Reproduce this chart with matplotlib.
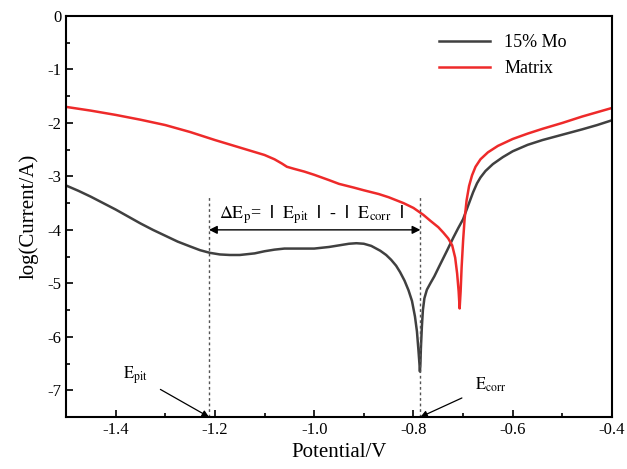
import matplotlib
matplotlib.use("Agg")
import matplotlib.pyplot as plt
from matplotlib.ticker import MultipleLocator

plt.rcParams['font.family'] = ['Liberation Serif', 'DejaVu Serif']
plt.rcParams['mathtext.fontset'] = 'stix'

# polarization curves, potential (V) vs log current
mo_x = [-1.5, -1.475, -1.45, -1.425, -1.4, -1.375, -1.35, -1.325, -1.3, -1.275, -1.25,
        -1.23, -1.21, -1.19, -1.17, -1.15, -1.12, -1.10, -1.08, -1.06, -1.03, -1.0,
        -0.97, -0.95, -0.93, -0.915, -0.90, -0.885, -0.867, -0.855, -0.845, -0.835,
        -0.827, -0.818, -0.81, -0.803, -0.797, -0.793, -0.790, -0.788, -0.787,
        -0.786, -0.785, -0.783, -0.781, -0.778, -0.773, -0.766, -0.758, -0.748,
        -0.733, -0.72, -0.71, -0.70, -0.69, -0.68, -0.672, -0.665, -0.655, -0.64,
        -0.62, -0.60, -0.57, -0.54, -0.50, -0.46, -0.43, -0.40]
mo_y = [-3.17, -3.27, -3.38, -3.50, -3.62, -3.75, -3.88, -4.00, -4.11, -4.22, -4.31,
        -4.38, -4.43, -4.46, -4.47, -4.47, -4.44, -4.40, -4.37, -4.35, -4.35, -4.35,
        -4.32, -4.29, -4.26, -4.25, -4.26, -4.30, -4.39, -4.47, -4.56, -4.67,
        -4.79, -4.95, -5.13, -5.33, -5.62, -5.90, -6.25, -6.50, -6.65,
        -6.50, -6.20, -5.80, -5.50, -5.28, -5.12, -5.00, -4.87, -4.68,
        -4.40, -4.15, -3.97, -3.80, -3.55, -3.30, -3.13, -3.02, -2.90, -2.77,
        -2.64, -2.53, -2.41, -2.32, -2.22, -2.12, -2.04, -1.95]

mx_x = [-1.5, -1.45, -1.4, -1.35, -1.3, -1.25, -1.2, -1.15, -1.1, -1.08, -1.065, -1.055,
        -1.04, -1.02, -1.0, -0.97, -0.95, -0.92, -0.9, -0.87, -0.85, -0.82, -0.8,
        -0.78, -0.766, -0.75, -0.74, -0.73, -0.722, -0.716, -0.712, -0.709, -0.707,
        -0.705, -0.703, -0.700, -0.697, -0.693, -0.688, -0.682, -0.675, -0.665,
        -0.65, -0.63, -0.6, -0.57, -0.54, -0.5, -0.46, -0.43, -0.4]
mx_y = [-1.70, -1.77, -1.85, -1.94, -2.04, -2.17, -2.32, -2.46, -2.60, -2.68, -2.76, -2.82,
        -2.86, -2.91, -2.97, -3.07, -3.14, -3.21, -3.26, -3.33, -3.39, -3.50, -3.59,
        -3.72, -3.83, -3.95, -4.05, -4.16, -4.29, -4.52, -4.82, -5.15, -5.47,
        -5.15, -4.70, -4.20, -3.80, -3.45, -3.18, -2.98, -2.82, -2.68,
        -2.55, -2.43, -2.30, -2.20, -2.11, -2.00, -1.88, -1.80, -1.72]

e_pit = -1.212
e_corr = -0.786

fig = plt.figure(figsize=(6.27, 4.69), dpi=100)
ax = fig.add_axes([0.1053, 0.1109, 0.8708, 0.855])

ax.plot(mo_x, mo_y, color='#404040', lw=1.8, label='15% Mo')
ax.plot(mx_x, mx_y, color='#ee2a2a', lw=1.8, label='Matrix')

for xv in (e_pit, e_corr):
    ax.plot([xv, xv], [-7.5, -3.35], color='#555555', lw=1, ls=(0, (2, 2)))

ax.annotate('', xy=(e_pit, -4.0), xytext=(e_corr, -4.0),
            arrowprops=dict(arrowstyle='<|-|>', color='black', lw=1,
                            mutation_scale=12, shrinkA=0, shrinkB=0))
ax.text(e_pit + 0.02, -3.72,
        r'$\Delta\mathrm{E_p}$=  $\mathbf{|}$  $\mathrm{E_{pit}}$  $\mathbf{|}$  -  '
        r'$\mathbf{|}$  $\mathrm{E_{corr}}$  $\mathbf{|}$',
        fontsize=13, va='center', ha='left')

ax.annotate(r'$\mathrm{E_{pit}}$', xy=(e_pit, -7.5), xytext=(-1.36, -6.72),
            fontsize=12, ha='center', va='center',
            arrowprops=dict(arrowstyle='-|>', color='black', lw=0.9,
                            mutation_scale=10, shrinkA=8, shrinkB=0))
ax.annotate(r'$\mathrm{E_{corr}}$', xy=(e_corr, -7.5), xytext=(-0.645, -6.9),
            fontsize=12, ha='center', va='center',
            arrowprops=dict(arrowstyle='-|>', color='black', lw=0.9,
                            mutation_scale=10, shrinkA=8, shrinkB=0))

ax.set_xlim(-1.5, -0.4)
ax.set_ylim(-7.5, 0)
ax.xaxis.set_major_locator(MultipleLocator(0.2))
ax.xaxis.set_minor_locator(MultipleLocator(0.1))
ax.yaxis.set_major_locator(MultipleLocator(1))
ax.yaxis.set_minor_locator(MultipleLocator(0.5))
ax.xaxis.set_major_formatter(plt.FuncFormatter(lambda v, p: '%.1f' % v))
ax.yaxis.set_major_formatter(plt.FuncFormatter(lambda v, p: '%d' % round(v)))
ax.tick_params(which='both', direction='in', top=False, right=False, labelsize=12)
ax.tick_params(which='major', length=5, width=1.2)
ax.tick_params(which='minor', length=3, width=1.2)
for s in ax.spines.values():
    s.set_linewidth(1.5)

ax.set_xlabel('Potential/V', fontsize=15, labelpad=4)
ax.set_ylabel('log(Current/A)', fontsize=15, labelpad=6)

ax.legend(loc='upper right', frameon=False, fontsize=13, handlelength=2.8,
          borderaxespad=0.6, bbox_to_anchor=(0.95, 1.0))

fig.savefig('out.png', dpi=100)
